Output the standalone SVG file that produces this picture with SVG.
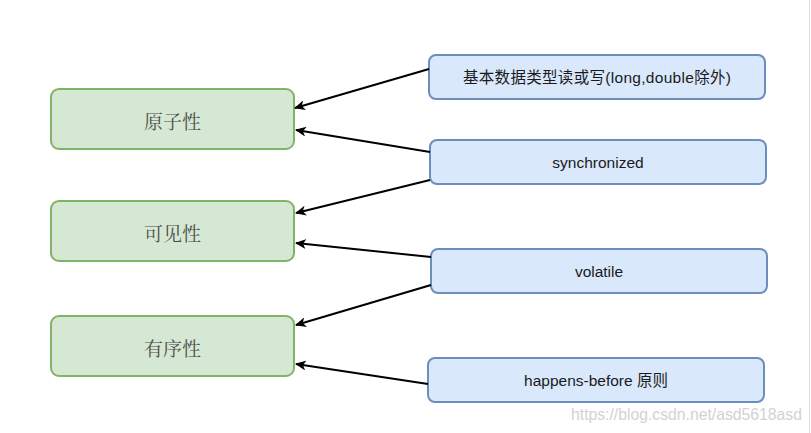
<svg xmlns="http://www.w3.org/2000/svg" width="811" height="433" viewBox="0 0 811 433">
<style>
.g rect{fill:#d5e8d4;stroke:#82b366;stroke-width:2}
.b rect{fill:#dae8fc;stroke:#6c8ebf;stroke-width:2}
.g text{font-family:"Noto Serif CJK SC","Noto Sans CJK SC",serif;font-size:19px;fill:#4d4d4d;text-anchor:middle;dominant-baseline:central}
.b text{font-family:"Liberation Sans",Arial,"Noto Sans CJK SC",sans-serif;font-size:15.5px;fill:#1a1a1a;text-anchor:middle;dominant-baseline:central}
#edges line{stroke:#000;stroke-width:2;marker-end:url(#ah)}
.wm{font-family:"Liberation Sans",Arial,sans-serif;font-size:16.5px;fill:#d2d2d2}
</style>
<defs>
<marker id="ah" markerWidth="12" markerHeight="10" refX="10" refY="5" orient="auto" markerUnits="userSpaceOnUse">
<path d="M0,0 L11,5 L0,10 L3,5 z" fill="#000"/>
</marker>
</defs>
<rect x="0" y="0" width="811" height="433" fill="#fff"/>
<line x1="809.5" y1="0" x2="809.5" y2="433" stroke="#e0e0e0" stroke-width="1"/>
<g id="n-atomic" class="g"><rect x="51" y="89" width="243" height="60" rx="8"/><text x="172.5" y="120">原子性</text></g>
<g id="n-visible" class="g"><rect x="51" y="201" width="243" height="60" rx="8"/><text x="172.5" y="232">可见性</text></g>
<g id="n-ordered" class="g"><rect x="51" y="316" width="243" height="60" rx="8"/><text x="172.5" y="347">有序性</text></g>
<g id="n-basic" class="b"><rect x="429" y="55" width="336" height="44" rx="7"/><text x="597" y="77.5" textLength="268" lengthAdjust="spacing">基本数据类型读或写(long,double除外)</text></g>
<g id="n-sync" class="b"><rect x="430" y="140" width="336" height="44" rx="7"/><text x="598" y="162">synchronized</text></g>
<g id="n-volatile" class="b"><rect x="431" y="249" width="336" height="44" rx="7"/><text x="599" y="271">volatile</text></g>
<g id="n-hb" class="b"><rect x="428" y="358" width="336" height="44" rx="7"/><text x="596" y="380">happens-before 原则</text></g>
<g id="edges">
<line x1="429" y1="69" x2="295" y2="108"/>
<line x1="430" y1="152" x2="296" y2="130"/>
<line x1="430" y1="180" x2="296" y2="213"/>
<line x1="431" y1="257" x2="296" y2="243"/>
<line x1="431" y1="285" x2="296" y2="325"/>
<line x1="428" y1="384" x2="296" y2="364"/>
</g>
<text class="wm" x="571" y="420" textLength="231" lengthAdjust="spacingAndGlyphs">https://blog.csdn.net/asd5618asd</text>
</svg>
